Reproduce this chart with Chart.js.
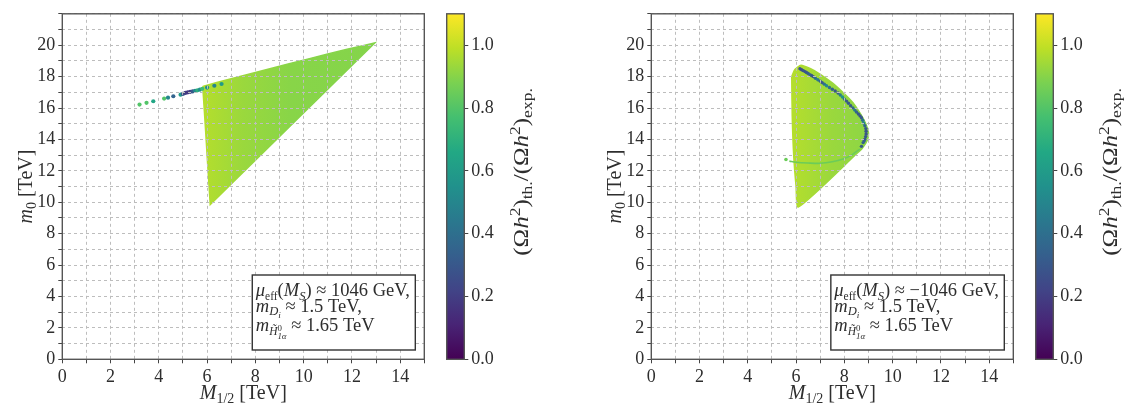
<!DOCTYPE html>
<html><head><meta charset="utf-8">
<script src="https://cdn.jsdelivr.net/npm/chart.js@4.4.1/dist/chart.umd.min.js"></script>
<style>
html,body{margin:0;padding:0;background:#fff;width:1126px;height:410px;overflow:hidden;position:relative}
canvas{position:absolute;top:0}
</style></head><body>
<canvas id="p1" width="440" height="410" style="left:0px"></canvas>
<canvas id="c1" width="100" height="410" style="left:440px"></canvas>
<canvas id="p2" width="440" height="410" style="left:588.5px"></canvas>
<canvas id="c2" width="100" height="410" style="left:1028.5px"></canvas>
<script>
// ---------- data ----------
const xTickLabels = ['0','2','4','6','8','10','12','14'];
const yTickLabels = ['0','2','4','6','8','10','12','14','16','18','20'];
const cbarTickLabels = ['0.0','0.2','0.4','0.6','0.8','1.0'];
const xRange = [0, 15];
const yRange = [0, 22];
const cbarRange = [0, 1.1];

// left panel: mu_eff > 0 — allowed region outline (M_1/2, m_0) in TeV
const leftRegionX = [5.82, 6.4, 7.0, 7.8, 8.6, 9.4, 10.2, 11.0, 11.8, 12.5, 12.95, 6.13, 6.02, 5.92, 5.82];
const leftRegionY = [17.38, 17.62, 17.86, 18.18, 18.5, 18.82, 19.13, 19.44, 19.74, 19.98, 20.15, 9.86, 12.5, 15.0, 17.38];
// left panel: isolated tail points and their relic-density ratio
const leftTailX = [3.2, 3.49, 3.77, 4.22, 4.38, 4.6, 4.9, 5.0, 5.1, 5.2, 5.3, 5.4, 5.5, 5.6, 5.7, 5.8, 6.0, 6.3, 6.6];
const leftTailY = [16.22, 16.33, 16.43, 16.6, 16.66, 16.75, 16.85, 16.9, 16.96, 17.0, 17.03, 17.06, 17.1, 17.13, 17.17, 17.22, 17.3, 17.42, 17.53];
const leftTailV = [0.8, 0.8, 0.65, 0.8, 0.5, 0.35, 0.6, 0.3, 0.2, 0.18, 0.2, 0.3, 0.5, 0.7, 0.55, 0.75, 0.55, 0.5, 0.6];

// right panel: mu_eff < 0 — allowed region outline
const rightRegionX = [5.82, 5.95, 6.2, 6.6, 7.0, 7.5, 8.0, 8.4, 8.7, 8.9, 9.0, 8.95, 8.75, 8.55, 6.1, 6.0, 5.9, 5.84, 5.82];
const rightRegionY = [18.0, 18.45, 18.72, 18.5, 18.15, 17.6, 16.9, 16.25, 15.55, 14.95, 14.4, 13.95, 13.45, 13.15, 9.7, 11.0, 13.0, 15.5, 18.0];
// right panel: under-abundant boundary curve
const rightBlueX = [6.16, 6.23, 6.3, 6.37, 6.43, 6.5, 6.57, 6.64, 6.71, 6.8, 6.9, 7.0, 7.08, 7.17, 7.26, 7.38, 7.5, 7.62, 7.74, 7.83, 7.92, 8.0, 8.09, 8.17, 8.26, 8.35, 8.43, 8.5, 8.58, 8.65, 8.71, 8.76, 8.8, 8.85, 8.89, 8.9, 8.9, 8.88, 8.85, 8.82, 8.78, 8.71];
const rightBlueY = [18.5, 18.44, 18.38, 18.32, 18.26, 18.2, 18.13, 18.07, 18.0, 17.9, 17.8, 17.71, 17.62, 17.52, 17.42, 17.31, 17.2, 17.08, 16.96, 16.83, 16.7, 16.57, 16.44, 16.3, 16.15, 16.01, 15.87, 15.75, 15.62, 15.5, 15.38, 15.22, 15.05, 14.87, 14.69, 14.52, 14.35, 14.18, 14.02, 13.91, 13.8, 13.56];
const rightBlueV = [0.28, 0.25, 0.3, 0.28, 0.3, 0.32, 0.35, 0.3, 0.3, 0.4, 0.45, 0.35, 0.3, 0.4, 0.5, 0.4, 0.35, 0.3, 0.3, 0.45, 0.55, 0.4, 0.3, 0.3, 0.3, 0.35, 0.45, 0.35, 0.3, 0.28, 0.3, 0.4, 0.5, 0.35, 0.3, 0.28, 0.28, 0.3, 0.3, 0.32, 0.35, 0.3];
// right panel: lower arc
const rightArcX = [5.72, 6.0, 6.5, 7.0, 7.5, 7.95, 8.3, 8.64];
const rightArcY = [12.62, 12.55, 12.5, 12.48, 12.58, 12.76, 13.0, 13.39];
const rightArcV = 0.85;
const rightDotX = [5.58];
const rightDotY = [12.72];
const rightDotV = [0.85];

// ---------- styling helpers ----------
const FONT = '"Liberation Serif", "DejaVu Serif", serif';
const TXT = '#2e2e2e';
const VIR = ['#440154','#482475','#414487','#355f8d','#2a788e','#21918c','#22a884','#44bf70','#7ad151','#bddf26','#fde725'];
function hex2rgb(h){return [parseInt(h.substr(1,2),16),parseInt(h.substr(3,2),16),parseInt(h.substr(5,2),16)];}
function viridis(t){
  t=Math.max(0,Math.min(1,t)); const f=t*10; const i=Math.min(9,Math.floor(f)); const u=f-i;
  const a=hex2rgb(VIR[i]), b=hex2rgb(VIR[i+1]);
  return 'rgb('+a.map((v,k)=>Math.round(v+(b[k]-v)*u)).join(',')+')';
}
const cmap = v => viridis((v-cbarRange[0])/(cbarRange[1]-cbarRange[0]));

function drawRich(ctx, segs, x, y, size, align){
  let cursor=0, prevStart=0; const pos=[];
  for(const s of segs){
    const fs=size*(s.s||1);
    const font=(s.it?'italic ':'')+fs+'px '+FONT;
    ctx.font=font; const w=ctx.measureText(s.t).width;
    const sx = s.back ? prevStart : cursor;
    pos.push({sx,font,dy:(s.dy||0)*size,t:s.t});
    prevStart=sx; cursor=Math.max(cursor, sx+w);
  }
  const ox = align==='center' ? -cursor/2 : 0;
  ctx.fillStyle=TXT; ctx.textBaseline='alphabetic'; ctx.textAlign='left';
  for(const p of pos){ ctx.font=p.font; ctx.fillText(p.t, x+ox+p.sx, y+p.dy); }
  return cursor;
}
function measureRich(ctx, segs, size){
  let cursor=0, prevStart=0;
  for(const s of segs){
    ctx.font=(s.it?'italic ':'')+size*(s.s||1)+'px '+FONT;
    const w=ctx.measureText(s.t).width; const sx=s.back?prevStart:cursor;
    prevStart=sx; cursor=Math.max(cursor,sx+w);
  }
  return cursor;
}

const xTitle=[{t:'M',it:true},{t:'1/2',s:0.7,dy:0.22},{t:' [TeV]'}];
const yTitle=[{t:'m',it:true},{t:'0',s:0.7,dy:0.22},{t:' [TeV]'}];
const cTitle=[{t:'('},{t:'Ω'},{t:'h',it:true},{t:'2',s:0.7,dy:-0.38},{t:')'},{t:'th.',s:0.7,dy:0.22},{t:'/'},
              {t:'('},{t:'Ω'},{t:'h',it:true},{t:'2',s:0.7,dy:-0.38},{t:')'},{t:'exp.',s:0.7,dy:0.22}];
function legendLines(sign){
  return [
    [{t:'μ',it:true},{t:'eff',s:0.62,dy:0.2},{t:'('},{t:'M',it:true},{t:'S',it:true,s:0.68,dy:0.2},{t:') ≈ '+sign+'1046 GeV,'}],
    [{t:'m',it:true},{t:'D',it:true,s:0.68,dy:0.2},{t:'i',it:true,s:0.5,dy:0.36},{t:' ≈ 1.5 TeV,'}],
    [{t:'m',it:true},{t:'H̃',it:true,s:0.62,dy:0.22},{t:'0',s:0.48,dy:0.02},{t:'1α',it:true,s:0.48,dy:0.45,back:true},{t:' ≈ 1.65 TeV'}]
  ];
}

function regionGradient(gx, gc){
  return (c)=>{
    const ch=c.chart; if(!ch.chartArea) return gc[0];
    const xs=ch.scales.x; const g=ch.ctx.createLinearGradient(xs.getPixelForValue(gx[0]),0,xs.getPixelForValue(gx[gx.length-1]),0);
    gx.forEach((v,i)=>g.addColorStop((v-gx[0])/(gx[gx.length-1]-gx[0]), gc[i]));
    return g;
  };
}
const GX=[5.8,7.5,9.5,13], GC=['#b5de2c','#9ad83d','#88d548','#84d44b'];

function makePanel(id, datasets, lines){
  const framePlugin={
    id:'frame',
    afterDraw(chart){
      const ctx=chart.ctx, a=chart.chartArea;
      ctx.save();
      ctx.strokeStyle='#555'; ctx.lineWidth=1.4; ctx.setLineDash([]);
      ctx.strokeRect(a.left, a.top, a.right-a.left, a.bottom-a.top);
      drawRich(ctx, xTitle, (a.left+a.right)/2, 399, 20, 'center');
      ctx.translate(32, (a.top+a.bottom)/2); ctx.rotate(-Math.PI/2);
      drawRich(ctx, yTitle, 0, 0, 20, 'center');
      ctx.restore();
      ctx.save();
      const size=18.5; let w=0; lines.forEach(l=>w=Math.max(w,measureRich(ctx,l,size)));
      const right=a.right-9, bottom=a.bottom-9.3, top=bottom-75, left=right-w-9;
      ctx.fillStyle='#fff'; ctx.fillRect(left,top,right-left,bottom-top);
      ctx.strokeStyle='#333'; ctx.lineWidth=1.4; ctx.strokeRect(left,top,right-left,bottom-top);
      const bl=[bottom-54,bottom-38.5,bottom-19.5];
      lines.forEach((l,i)=>drawRich(ctx,l,left+3.5,bl[i],size,'left'));
      ctx.restore();
    }
  };
  const gridCommon={color:'#bdbdbd', lineWidth:1, z:1, drawTicks:true, tickLength:4, tickColor:'#444', tickWidth:1};
  return new Chart(document.getElementById(id),{
    type:'scatter',
    data:{datasets},
    options:{
      responsive:false, animation:false, events:[],
      layout:{padding:{left:0,right:15.7,top:9.3,bottom:0}},
      plugins:{legend:{display:false},tooltip:{enabled:false}},
      scales:{
        x:{type:'linear',min:xRange[0],max:xRange[1],
           afterFit:s=>{s.height=50.7;},
           ticks:{stepSize:1,includeBounds:false,autoSkip:false,maxRotation:0,padding:3,color:TXT,font:{family:FONT,size:18},
                  callback:v=>xTickLabels.includes(String(v))?String(v):''},
           grid:gridCommon, border:{display:false,dash:[3,3]}},
        y:{type:'linear',min:yRange[0],max:yRange[1],
           afterFit:s=>{s.width=62.3;},
           ticks:{stepSize:1,includeBounds:false,autoSkip:false,padding:3,color:TXT,font:{family:FONT,size:18},
                  callback:v=>yTickLabels.includes(String(v))?String(v):''},
           grid:gridCommon, border:{display:false,dash:[3,3]}}
      }
    },
    plugins:[framePlugin]
  });
}

function makeCbar(id){
  const plug={
    id:'cframe',
    afterDraw(chart){
      const ctx=chart.ctx,a=chart.chartArea;
      ctx.save(); ctx.strokeStyle='#555'; ctx.lineWidth=1.4;
      ctx.strokeRect(a.left,a.top,a.right-a.left,a.bottom-a.top);
      ctx.translate(88,172); ctx.rotate(-Math.PI/2); ctx.scale(1.25,1);
      drawRich(ctx,cTitle,0,0,20,'center');
      ctx.restore();
    }
  };
  return new Chart(document.getElementById(id),{
    type:'bar',
    data:{labels:[''],datasets:[{data:[cbarRange[1]],borderWidth:0,barPercentage:1,categoryPercentage:1,
      backgroundColor:(c)=>{const ch=c.chart; if(!ch.chartArea) return VIR[0]; const ys=ch.scales.y;
        const g=ch.ctx.createLinearGradient(0,ys.getPixelForValue(cbarRange[0]),0,ys.getPixelForValue(cbarRange[1]));
        VIR.forEach((col,i)=>g.addColorStop(i/10,col)); return g;}}]},
    options:{
      responsive:false, animation:false, events:[],
      layout:{padding:{left:6.7,right:0,top:9.3,bottom:50.7}},
      plugins:{legend:{display:false},tooltip:{enabled:false}},
      scales:{
        x:{display:false},
        y:{position:'right',min:cbarRange[0],max:cbarRange[1],afterFit:s=>{s.width=100-6.7-17.6;},
           ticks:{stepSize:0.2,includeBounds:false,padding:3,color:TXT,font:{family:FONT,size:18},
                  callback:v=>{const s=(+v).toFixed(1); return cbarTickLabels.includes(s)?s:'';}},
           grid:{drawOnChartArea:false,drawTicks:true,tickLength:4,tickColor:'#444'},border:{display:false}}
      }
    },
    plugins:[plug]
  });
}

const pts=(xs,ys)=>xs.map((x,i)=>({x,y:ys[i]}));

makePanel('p1',[
  {order:5,data:pts(leftRegionX,leftRegionY),showLine:true,fill:'shape',tension:0,pointRadius:0,
   backgroundColor:regionGradient(GX,GC),borderColor:regionGradient(GX,GC),borderWidth:1.5},
  {order:1,data:pts(leftTailX,leftTailY),pointRadius:2.1,borderWidth:0,
   pointBackgroundColor:leftTailV.map(cmap)}
], legendLines(''));

makePanel('p2',[
  {order:5,data:pts(rightRegionX,rightRegionY),showLine:true,fill:'shape',tension:0.2,pointRadius:0,
   backgroundColor:regionGradient(GX,GC),borderColor:regionGradient(GX,GC),borderWidth:1.5},
  {order:3,data:pts(rightArcX,rightArcY),showLine:true,tension:0.3,pointRadius:0,borderColor:cmap(rightArcV),borderWidth:1.6},
  {order:2,data:pts(rightDotX,rightDotY),pointRadius:1.8,borderWidth:0,pointBackgroundColor:rightDotV.map(cmap)},
  {order:1,data:pts(rightBlueX,rightBlueY),pointRadius:1.7,borderWidth:0,pointBackgroundColor:rightBlueV.map(cmap)}
], legendLines('−'));

makeCbar('c1');
makeCbar('c2');
</script>
</body></html>
